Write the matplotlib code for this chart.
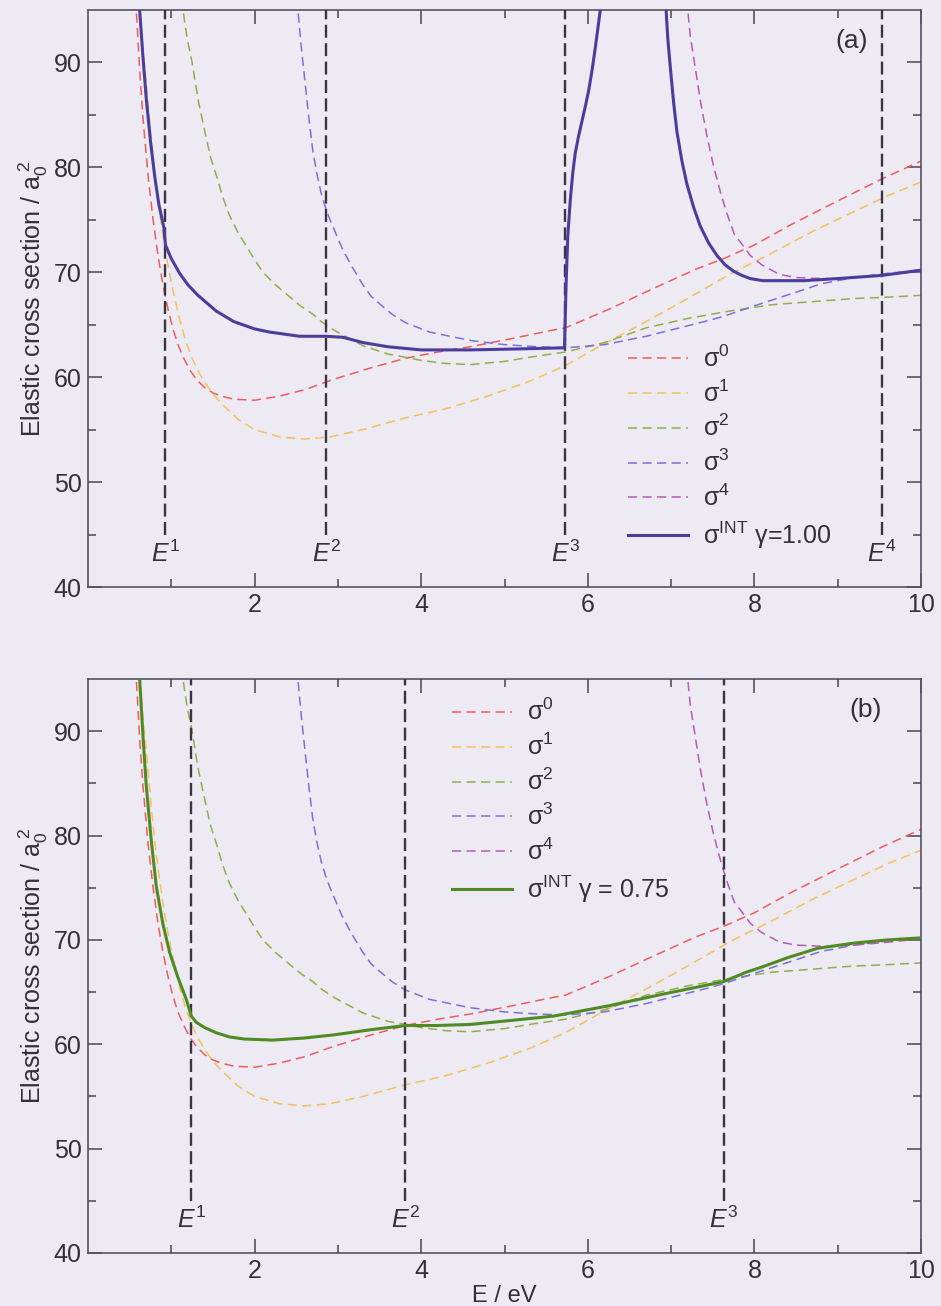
import numpy as np
import matplotlib
matplotlib.use("Agg")
import matplotlib.pyplot as plt
from matplotlib.ticker import FixedLocator

plt.rcParams['font.family'] = ['Liberation Sans', 'DejaVu Sans']
plt.rcParams['mathtext.fontset'] = 'custom'
plt.rcParams['mathtext.rm'] = 'Liberation Sans'
plt.rcParams['mathtext.it'] = 'Liberation Sans:italic'
plt.rcParams['mathtext.bf'] = 'Liberation Sans:bold'

# ---------------- data ----------------
s0_x = [0.50, 0.58, 0.62, 0.66, 0.72, 0.78, 0.84, 0.90, 0.96, 1.02, 1.08, 1.15, 1.22, 1.30, 1.40, 1.50,
        1.60, 1.75, 2.00, 2.30, 2.60, 2.95, 3.40, 3.81, 4.20, 4.59, 5.10, 5.59, 5.73, 6.26, 6.80, 7.30,
        7.63, 8.00, 8.43, 9.00, 9.53, 10.0]
s0_y = [110, 95.0, 89.3, 84.7, 79.3, 75.1, 71.6, 68.8, 66.5, 64.6, 63.1, 61.8, 60.7, 59.8, 59.0, 58.5,
        58.2, 57.9, 57.8, 58.2, 58.8, 59.8, 60.9, 61.8, 62.4, 62.9, 63.7, 64.5, 64.7, 66.5, 68.5, 70.3,
        71.3, 72.6, 74.5, 76.8, 78.9, 80.6]

s1_x = [0.54, 0.62, 0.66, 0.70, 0.75, 0.80, 0.85, 0.90, 0.95, 1.00, 1.05, 1.10, 1.17, 1.25, 1.32, 1.40,
        1.50, 1.60, 1.80, 2.00, 2.30, 2.60, 2.90, 3.30, 3.80, 4.30, 4.80, 5.30, 5.73, 6.20, 6.70, 7.20,
        7.70, 8.20, 8.70, 9.20, 9.60, 10.0]
s1_y = [110, 95.0, 91.3, 88.0, 83.5, 79.5, 76.3, 73.5, 71.1, 69.0, 67.2, 65.5, 63.5, 61.8, 60.6, 59.5,
        58.4, 57.5, 56.0, 55.0, 54.3, 54.1, 54.3, 55.0, 56.1, 57.0, 58.2, 59.6, 61.1, 63.2, 65.3, 67.5,
        69.8, 71.8, 73.9, 75.8, 77.3, 78.6]

s2_x = [1.08, 1.14, 1.19, 1.25, 1.32, 1.40, 1.47, 1.55, 1.62, 1.70, 1.80, 1.90, 2.00, 2.10, 2.25, 2.40,
        2.55, 2.70, 2.80, 2.95, 3.30, 3.60, 3.81, 4.00, 4.30, 4.59, 5.00, 5.30, 5.73, 6.20, 6.70, 7.20,
        7.70, 8.20, 8.70, 9.20, 9.53, 10.0]
s2_y = [110, 95.0, 92.3, 90.0, 86.5, 83.5, 81.0, 79.0, 77.1, 75.4, 73.8, 72.5, 71.2, 70.0, 68.8, 67.8,
        66.8, 66.0, 65.3, 64.5, 63.0, 62.2, 61.9, 61.6, 61.3, 61.2, 61.5, 61.9, 62.4, 63.3, 64.7, 65.6,
        66.3, 66.9, 67.2, 67.5, 67.6, 67.8]

s3_x = [2.47, 2.52, 2.56, 2.60, 2.65, 2.70, 2.75, 2.80, 2.85, 2.90, 3.05, 3.15, 3.30, 3.40, 3.50, 3.65,
        3.81, 4.10, 4.59, 5.00, 5.40, 5.73, 6.20, 6.70, 7.20, 7.40, 7.63, 8.00, 8.50, 8.80, 9.20, 9.60,
        10.0]
s3_y = [110, 95.0, 91.5, 88.5, 84.8, 81.5, 79.3, 77.5, 76.2, 75.1, 72.3, 70.8, 68.8, 67.7, 67.0, 66.0,
        65.2, 64.3, 63.5, 63.1, 62.9, 62.8, 63.1, 63.9, 64.9, 65.3, 65.8, 66.8, 68.1, 68.9, 69.5, 69.9,
        70.2]

s4_x = [7.16, 7.20, 7.23, 7.28, 7.35, 7.43, 7.51, 7.59, 7.67, 7.76, 7.83, 7.95, 8.09, 8.30, 8.50, 8.80,
        9.00, 9.50, 10.0]
s4_y = [110, 95.0, 92.5, 90.0, 86.4, 83.0, 80.1, 77.7, 75.6, 73.6, 72.9, 71.6, 70.7, 69.8, 69.5, 69.4,
        69.4, 69.7, 70.1]

# interpolated cross section, gamma = 1.00 (pole between E3 and E4)
inta_x = [0.56, 0.62, 0.66, 0.70, 0.75, 0.80, 0.85, 0.91, 0.93, 1.00, 1.10, 1.20, 1.32, 1.54, 1.75, 2.00,
          2.18, 2.54, 2.86, 3.06, 3.30, 3.60, 4.00, 4.59, 5.20, 5.72,
          5.74, 5.76, 5.79, 5.82, 5.85, 5.89, 5.93, 5.97, 6.01, 6.05, 6.09, 6.12, 6.15, 6.20,
          np.nan,
          6.90, 6.94, 6.96, 6.99, 7.03, 7.07, 7.13, 7.19, 7.27, 7.35, 7.45, 7.55, 7.65, 7.75, 7.85,
          7.95, 8.10, 8.60, 9.00, 9.53, 10.0]
inta_y = [110, 95.0, 90.5, 86.5, 82.5, 79.2, 76.5, 74.3, 72.6, 71.3, 69.9, 68.8, 67.8, 66.3, 65.3, 64.6,
          64.3, 63.9, 63.9, 63.8, 63.3, 62.9, 62.6, 62.6, 62.7, 62.8,
          69.0, 73.5, 76.9, 79.5, 81.4, 83.0, 84.4, 85.8, 87.3, 89.2, 91.4, 93.2, 95.0, 100,
          np.nan,
          100, 95.0, 92.3, 89.6, 86.2, 83.4, 80.6, 78.4, 76.2, 74.4, 72.8, 71.6, 70.7, 70.1, 69.7,
          69.4, 69.2, 69.2, 69.4, 69.7, 70.2]

# interpolated cross section, gamma = 0.75
intb_x = [0.56, 0.62, 0.66, 0.70, 0.76, 0.82, 0.90, 0.98, 1.08, 1.18, 1.24, 1.30, 1.40, 1.54, 1.70, 1.88,
          2.22, 2.60, 2.95, 3.40, 3.81, 4.20, 4.59, 5.10, 5.59, 6.26, 6.90, 7.63, 7.90, 8.09, 8.40,
          8.76, 9.20, 9.60, 10.0]
intb_y = [110, 95.0, 89.5, 84.7, 79.5, 75.1, 71.5, 68.8, 66.4, 64.3, 62.7, 62.1, 61.6, 61.1, 60.7, 60.5,
          60.4, 60.6, 60.9, 61.4, 61.8, 61.8, 61.9, 62.3, 62.7, 63.7, 64.8, 66.0, 66.9, 67.4, 68.3,
          69.2, 69.7, 70.0, 70.2]

E_a = [0.93, 2.86, 5.73, 9.53]
E_b = [1.24, 3.81, 7.63]
E_labels = [r'$E^{1}$', r'$E^{2}$', r'$E^{3}$', r'$E^{4}$']

sig_labels = ['σ$^{0}$', 'σ$^{1}$', 'σ$^{2}$', 'σ$^{3}$', 'σ$^{4}$']
int_label_a = 'σ$^{\\rm INT}$ γ=1.00'
int_label_b = 'σ$^{\\rm INT}$ γ = 0.75'

xticks = [2, 4, 6, 8, 10]
xminor = [1, 3, 5, 7, 9]
yticks = [40, 50, 60, 70, 80, 90]
yminor = [45, 55, 65, 75, 85]

# ---------------- style ----------------
bg = '#edeaf4'
sig_colors = ['#ee5c5c', '#f3c060', '#8fae4a', '#7a70d8', '#b65ab6']
int_color_a = '#4a3d9b'
int_color_b = '#4f8a22'
axcol = '#58505e'
ecol = '#3a3540'
tcol = '#333038'

fig = plt.figure(figsize=(9.41, 13.06), dpi=100, facecolor=bg)
W, H = 941.0, 1306.0
ax1 = fig.add_axes([88 / W, 1 - 587 / H, 833 / W, 577 / H])
ax2 = fig.add_axes([88 / W, 1 - 1253 / H, 833 / W, 574 / H])

sig_x = [s0_x, s1_x, s2_x, s3_x, s4_x]
sig_y = [s0_y, s1_y, s2_y, s3_y, s4_y]


def setup(ax, E, int_x, int_y, int_col, int_lab, tag, tagx, leg_anchor):
    ax.set_facecolor(bg)
    for xs, ys, c, lab in zip(sig_x, sig_y, sig_colors, sig_labels):
        ax.plot(xs, ys, color=c, lw=1.1, ls=(0, (6, 3.5)), label=lab)
    ax.plot(int_x, int_y, color=int_col, lw=2.2, label=int_lab, zorder=5,
            solid_joinstyle='round')
    for i, e in enumerate(E):
        ax.plot([e, e], [45.0, 95.0], color=ecol, lw=1.7, ls=(0, (5.5, 2.3)), zorder=4)
        ax.text(e, 43.2, E_labels[i], ha='center', va='center', fontsize=18, color=tcol)
    ax.text(tagx, 92.0, tag, ha='center', va='center', fontsize=19, color=tcol)
    ax.set_xlim(0, 10)
    ax.set_ylim(40, 95)
    ax.xaxis.set_major_locator(FixedLocator(xticks))
    ax.xaxis.set_minor_locator(FixedLocator(xminor))
    ax.yaxis.set_major_locator(FixedLocator(yticks))
    ax.yaxis.set_minor_locator(FixedLocator(yminor))
    ax.tick_params(which='both', direction='in', top=True, right=True, color=axcol,
                   labelcolor=tcol, labelsize=18, width=1.2)
    ax.tick_params(which='major', length=10, pad=4.5)
    ax.tick_params(which='minor', length=5.5)
    for sp in ax.spines.values():
        sp.set_color(axcol)
        sp.set_linewidth(1.2)
    ax.set_ylabel('Elastic cross section / a$_0^{\\;2}$', fontsize=18, color=tcol, labelpad=3)
    leg = ax.legend(loc='upper left', bbox_to_anchor=leg_anchor, frameon=False, fontsize=18,
                    handlelength=2.4, handletextpad=0.6, labelspacing=0.34, borderpad=0,
                    borderaxespad=0)
    for t in leg.get_texts():
        t.set_color(tcol)


setup(ax1, E_a, inta_x, inta_y, int_color_a, int_label_a, '(a)', 9.17, (0.648, 0.419))
setup(ax2, E_b, intb_x, intb_y, int_color_b, int_label_b, '(b)', 9.33, (0.437, 0.965))
ax2.set_xlabel('E / eV', fontsize=17, color=tcol, labelpad=1)

fig.savefig('out.png', dpi=100, facecolor=bg)
